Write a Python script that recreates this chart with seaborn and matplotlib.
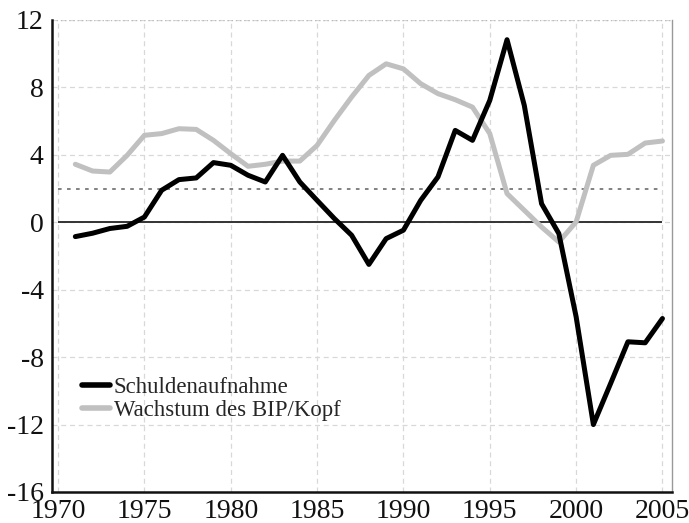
import matplotlib
matplotlib.use("Agg")
import matplotlib.pyplot as plt
import seaborn as sns
import pandas as pd
from matplotlib.lines import Line2D

years = list(range(1971, 2006))
schulden = [-0.85, -0.65, -0.37, -0.24, 0.31, 1.9, 2.53, 2.63, 3.54, 3.38,
            2.79, 2.39, 3.97, 2.39, 1.30, 0.22, -0.77, -2.5, -0.97, -0.47,
            1.30, 2.69, 5.45, 4.86, 7.23, 10.83, 6.93, 1.1, -0.67, -5.6,
            -12.0, -9.56, -7.09, -7.15, -5.71]
wachstum = [3.44, 3.04, 2.98, 3.97, 5.16, 5.26, 5.55, 5.51, 4.86, 4.07,
            3.32, 3.44, 3.63, 3.63, 4.56, 6.04, 7.43, 8.71, 9.40, 9.1,
            8.22, 7.63, 7.27, 6.83, 5.26, 1.7, 0.71, -0.28, -1.17, 0.02,
            3.38, 3.97, 4.03, 4.7, 4.82]
labels = ["Schuldenaufnahme", "Wachstum des BIP/Kopf"]
xticks = [1970, 1975, 1980, 1985, 1990, 1995, 2000, 2005]
yticks = [-16, -12, -8, -4, 0, 4, 8, 12]

sns.set_style("white")
plt.rcParams['font.family'] = ['Liberation Serif', 'DejaVu Serif']
plt.rcParams['axes.unicode_minus'] = False

df = pd.DataFrame({"Jahr": years * 2,
                   "Wert": schulden + wachstum,
                   "Reihe": [labels[0]] * len(years) + [labels[1]] * len(years)})

fig = plt.figure(figsize=(6.89, 5.23), dpi=100)
ax = fig.add_axes([0.0755, 0.0593, 0.8995, 0.9025])

ax.set_xlim(1969.65, 2005.54)
ax.set_ylim(-16, 12)
ax.set_xticks(xticks)
ax.set_yticks(yticks)
ax.grid(True, color="#d8d8d8", linestyle=(0, (4, 3)), linewidth=0.9)
ax.set_axisbelow(True)

ax.hlines(0, 1970, 2005, color="#333333", linewidth=1.4, zorder=2)
ax.hlines(2, 1970, 2005, color="#777777", linewidth=1.3, linestyle=(0, (2, 3)), zorder=2)

sns.lineplot(data=df, x="Jahr", y="Wert", hue="Reihe",
             palette={labels[0]: "#000000", labels[1]: "#c0c0c0"},
             hue_order=[labels[1], labels[0]], linewidth=3.6, ax=ax, zorder=3)

for l in ax.lines:
    l.set_solid_capstyle("round")
    l.set_solid_joinstyle("round")

handles = [Line2D([], [], color="#000000", lw=4), Line2D([], [], color="#c0c0c0", lw=4)]
ax.legend(handles, labels, loc="lower left", bbox_to_anchor=(0.048, 0.15),
          frameon=False, fontsize=16.4, handlelength=1.23, handletextpad=0.18,
          labelspacing=0.1, borderpad=0, borderaxespad=0)

ax.set_xlabel("")
ax.set_ylabel("")
ax.tick_params(axis="both", length=0, labelsize=20, colors="#111111")
ax.tick_params(axis="x", pad=5)
ax.tick_params(axis="y", pad=6)
for side in ["left", "bottom"]:
    ax.spines[side].set_color("#111111")
    ax.spines[side].set_linewidth(1.8)
ax.spines["top"].set_visible(False)
ax.spines["right"].set_color("#999999")
ax.spines["right"].set_linewidth(1.0)
ax.hlines(12, 1969.65, 2005.54, color="#bbbbbb", linewidth=1.0, linestyle=(0, (1, 2)), zorder=1)

fig.savefig("out.png", dpi=100)
